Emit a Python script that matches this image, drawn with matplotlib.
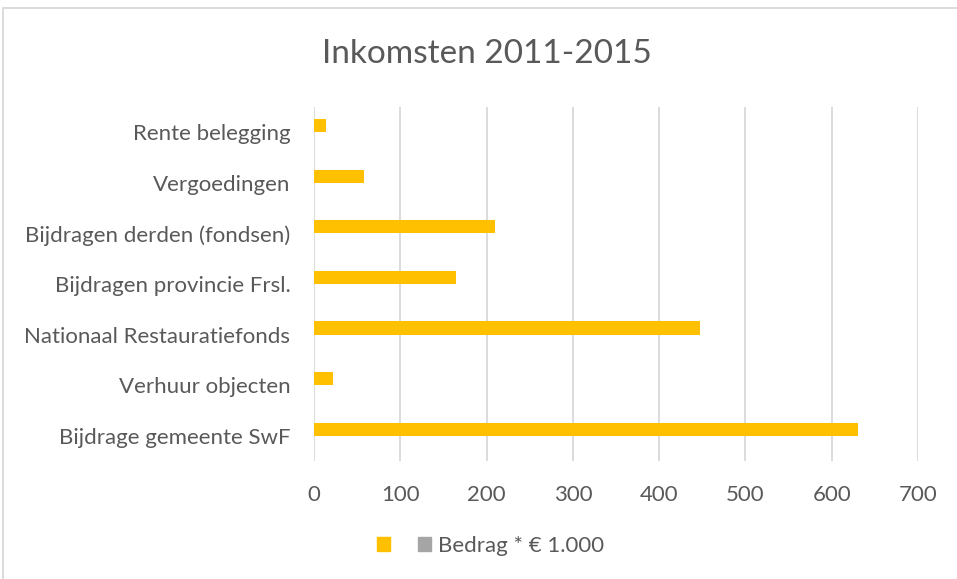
import matplotlib
matplotlib.use("Agg")
import matplotlib.pyplot as plt
from matplotlib.patches import Patch, Rectangle

# data (bottom to top)
categories = ["Bijdrage gemeente SwF", "Verhuur objecten", "Nationaal Restauratiefonds",
              "Bijdragen provincie Frsl.", "Bijdragen derden (fondsen)", "Vergoedingen",
              "Rente belegging"]
bedrag = [631, 22, 447, 164, 210, 58, 14]
leeg = [0, 0, 0, 0, 0, 0, 0]   # second (empty) series shown in the legend
xticks = [0, 100, 200, 300, 400, 500, 600, 700]

plt.rcParams['font.family'] = ['Lato', 'DejaVu Sans']
txt = '#595959'
grid = '#D9D9D9'

fig = plt.figure(figsize=(9.57, 5.79), dpi=100)
ax = fig.add_axes([314/957, 1 - 461/579, (918 - 314)/957, (461 - 107)/579])

ypos = list(range(len(categories)))
bh = 0.26
ax.barh([y + bh/2 for y in ypos], bedrag, height=bh, color='#FFC000', zorder=3)
ax.barh([y - bh/2 for y in ypos], leeg, height=bh, color='#A5A5A5', zorder=3)

ax.set_xlim(0, 700)
ax.set_ylim(-0.5, 6.5)
ax.set_xticks(xticks)
ax.set_yticks(ypos)
ax.set_yticklabels(categories)
ax.tick_params(length=0, labelsize=16, colors=txt)
ax.tick_params(axis='x', pad=17)
ax.tick_params(axis='y', pad=17)
ax.grid(axis='x', color=grid, linewidth=1.3, zorder=0)
for s in ax.spines.values():
    s.set_visible(False)

fig.text(487/957, 1 - 54/579, "Inkomsten 2011-2015", ha='center', va='center',
         fontsize=24, color=txt)

handles = [Patch(color='#FFC000'), Patch(color='#A5A5A5')]
fig.legend(handles, ['', 'Bedrag * € 1.000'], loc='center', ncol=2,
           bbox_to_anchor=(491/957, 1 - 546/579), frameon=False, fontsize=16,
           labelcolor=txt, handlelength=0.55, handleheight=0.55, handletextpad=0.35,
           columnspacing=0.95)

# outer chart border (only left and top visible)
fig.patches.append(Rectangle((3/957, -0.1), 1.2, 1 - 8/579 + 0.1, transform=fig.transFigure,
                             fill=False, edgecolor=grid, linewidth=1.3))

fig.savefig("out.png", dpi=100)
